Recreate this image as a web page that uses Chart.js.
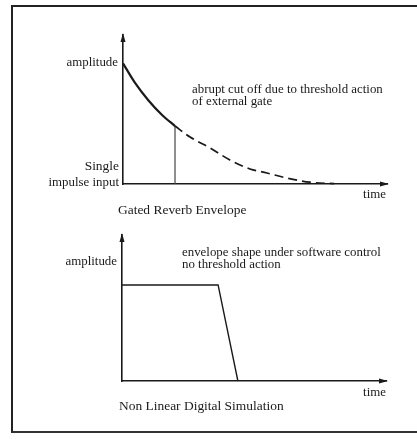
<!DOCTYPE html>
<html>
<head>
<meta charset="utf-8">
<script src="https://cdn.jsdelivr.net/npm/chart.js@4"></script>
<style>
  html, body { margin: 0; padding: 0; background: #fff; }
  body { width: 417px; height: 439px; position: relative; overflow: hidden; }
  #frame {
    position: absolute; left: 11px; top: 5px; width: 500px; height: 424px;
    border-top: 2px solid #222; border-left: 2px solid #222; border-bottom: 2px solid #333;
  }
  .box { position: absolute; left: 0; width: 417px; }
  #top { top: 0; height: 220px; }
  #bottom { top: 220px; height: 219px; }
  canvas { display: block; }
</style>
</head>
<body>
<div id="frame"></div>
<div class="box" id="top"><canvas id="reverb" width="417" height="220"></canvas></div>
<div class="box" id="bottom"><canvas id="digital" width="417" height="219"></canvas></div>
<script>
// top chart: gated reverb envelope (time 0-100, amplitude 0-100)
const decayTime  = [0, 4.5, 9.5, 14.8, 19.7];
const decayAmp   = [81, 68, 56.4, 46.3, 38.9];
const tailTime   = [19.7, 25.4, 33.0, 40.5, 48.1, 54.5, 62.1, 70.8, 80];
const tailAmp    = [38.9, 31.5, 24.2, 16.1, 10.1, 7.4, 4.0, 1.2, 0.2];
const gateTime   = [19.7, 19.7];
const gateAmp    = [0, 38.9];

// bottom chart: non linear digital simulation
const shapeTime  = [0, 36.4, 43.9];
const shapeAmp   = [65.8, 65.8, 0];

const ink = '#1a1a1a';
const serif = '"Liberation Serif", "DejaVu Serif", serif';
const stretch = 1.12; // huruf asli sedikit lebih lebar

function pts(xs, ys) {
  return xs.map((x, i) => ({ x: x, y: ys[i] }));
}

// teks & panah sumbu
const decorPlugin = {
  id: 'decor',
  afterDraw(chart, args, opts) {
    const ctx = chart.ctx;
    const a = chart.chartArea;
    ctx.save();
    ctx.fillStyle = ink;
    // arrows
    ctx.beginPath();
    ctx.moveTo(a.left, a.top - 2);
    ctx.lineTo(a.left - 2.5, a.top + 7);
    ctx.lineTo(a.left + 2.5, a.top + 7);
    ctx.closePath();
    ctx.fill();
    ctx.beginPath();
    ctx.moveTo(a.right + 2, a.bottom);
    ctx.lineTo(a.right - 7, a.bottom - 2.5);
    ctx.lineTo(a.right - 7, a.bottom + 2.5);
    ctx.closePath();
    ctx.fill();
    ctx.textBaseline = 'middle';
    opts.texts.forEach(t => {
      ctx.font = (t.size || 11.5) + 'px ' + serif;
      ctx.textAlign = t.align || 'left';
      ctx.save();
      ctx.translate(t.x, t.y);
      ctx.scale(stretch, 1);
      ctx.fillText(t.text, 0, 0);
      ctx.restore();
    });
    ctx.restore();
  }
};

function axes() {
  const axis = {
    type: 'linear', min: 0, max: 100,
    ticks: { display: false },
    grid: { display: false, drawTicks: false },
    border: { display: true, color: ink, width: 1.6 }
  };
  return { x: Object.assign({}, axis), y: Object.assign({}, axis) };
}

new Chart(document.getElementById('reverb'), {
  type: 'line',
  data: {
    datasets: [
      { data: pts(decayTime, decayAmp), borderColor: ink, borderWidth: 2.2, cubicInterpolationMode: 'monotone' },
      { data: pts(tailTime, tailAmp), borderColor: ink, borderWidth: 1.7, borderDash: [9, 5], cubicInterpolationMode: 'monotone' },
      { data: pts(gateTime, gateAmp), borderColor: '#444', borderWidth: 1.2 }
    ]
  },
  options: {
    responsive: false, animation: false, events: [],
    layout: { padding: { left: 123, right: 30, top: 35, bottom: 36 } },
    elements: { point: { radius: 0 } },
    datasets: { line: { clip: false } },
    scales: axes(),
    plugins: {
      legend: { display: false }, tooltip: { enabled: false },
      decor: { texts: [
        { text: 'amplitude', x: 118, y: 63, align: 'right' },
        { text: 'Single', x: 119, y: 167, align: 'right', size: 12 },
        { text: 'impulse input', x: 119, y: 183, align: 'right' },
        { text: 'time', x: 386, y: 195, align: 'right' },
        { text: 'Gated Reverb Envelope', x: 118, y: 211, size: 12 },
        { text: 'abrupt cut off due to threshold action', x: 192, y: 90 },
        { text: 'of external gate', x: 192, y: 101.5 }
      ] }
    }
  },
  plugins: [decorPlugin]
});

new Chart(document.getElementById('digital'), {
  type: 'line',
  data: {
    datasets: [
      { data: pts(shapeTime, shapeAmp), borderColor: ink, borderWidth: 1.4 }
    ]
  },
  options: {
    responsive: false, animation: false, events: [],
    layout: { padding: { left: 122, right: 31, top: 15, bottom: 58 } },
    elements: { point: { radius: 0 } },
    datasets: { line: { clip: false } },
    scales: axes(),
    plugins: {
      legend: { display: false }, tooltip: { enabled: false },
      decor: { texts: [
        { text: 'amplitude', x: 117, y: 42, align: 'right' },
        { text: 'envelope shape under software control', x: 182, y: 33 },
        { text: 'no threshold action', x: 182, y: 45 },
        { text: 'time', x: 386, y: 173, align: 'right' },
        { text: 'Non Linear Digital Simulation', x: 119, y: 187, size: 12 }
      ] }
    }
  },
  plugins: [decorPlugin]
});
</script>
</body>
</html>
